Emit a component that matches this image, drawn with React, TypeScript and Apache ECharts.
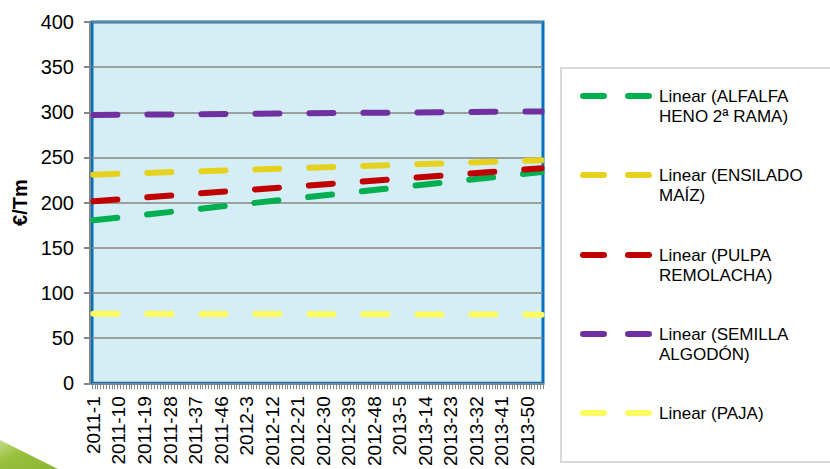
import React, { useEffect, useRef } from "react";
import * as echarts from "echarts";

const years = [2011, 2012, 2013, 2014];
const weeksPerYear = [52, 52, 52, 3];
const categories: string[] = [];
years.forEach((y, i) => {
  for (let w = 1; w <= weeksPerYear[i]; w++) categories.push(`${y}-${w}`);
});

const seriesNames = [
  "Linear (ALFALFA\nHENO 2ª RAMA)",
  "Linear (ENSILADO\nMAÍZ)",
  "Linear (PULPA\nREMOLACHA)",
  "Linear (SEMILLA\nALGODÓN)",
  "Linear (PAJA)",
];
const seriesColors = ["#00b050", "#e6d21e", "#c00000", "#7030a0", "#fcfc62"];
// trend line values at first and last category
const startValues = [180.5, 231, 201.5, 297, 77];
const endValues = [234, 247, 238, 301, 76];
const yTicks = { min: 0, max: 400, interval: 50 };

const FONT = "'Liberation Sans', Arial, sans-serif";

export default function App() {
  const ref = useRef<HTMLDivElement>(null);
  useEffect(() => {
    if (!ref.current) return;
    document.body.style.margin = "0";
    const chart = echarts.init(ref.current, null, { renderer: "svg" });
    const first = categories[0];
    const last = categories[categories.length - 1];
    const legendY = [96, 175, 255, 334, 413];
    const legendGraphics: any[] = [
      {
        type: "rect",
        shape: { x: 561, y: 68, width: 290, height: 394 },
        style: { fill: "#ffffff", stroke: "#d9d9d9", lineWidth: 2 },
      },
    ];
    seriesNames.forEach((n, i) => {
      const y = legendY[i];
      [
        [583, 604],
        [628, 649],
      ].forEach(([x1, x2]) => {
        legendGraphics.push({
          type: "line",
          shape: { x1, y1: y, x2, y2: y },
          style: { stroke: seriesColors[i], lineWidth: 6, lineCap: "round" },
        });
      });
      legendGraphics.push({
        type: "text",
        x: 659,
        y: y - 10,
        style: {
          text: n,
          fontFamily: FONT,
          fontSize: 17,
          lineHeight: 20,
          fill: "#000",
          verticalAlign: "top",
          align: "left",
        },
      });
    });
    legendGraphics.push({
      type: "polygon",
      shape: { points: [[0, 440], [58, 469], [0, 469]] },
      style: {
        fill: new echarts.graphic.LinearGradient(0, 0, 1, 1, [
          { offset: 0, color: "#c3dc8a" },
          { offset: 0.4, color: "#97c03c" },
          { offset: 1, color: "#8ab534" },
        ]),
      },
    });

    chart.setOption({
      animation: false,
      textStyle: { fontFamily: FONT },
      grid: {
        left: 92,
        right: 287,
        top: 22,
        bottom: 84,
        show: true,
        backgroundColor: "#d5eef5",
        borderColor: "#0070c0",
        borderWidth: 3,
      },
      xAxis: {
        type: "category",
        data: categories,
        boundaryGap: true,
        axisLine: { lineStyle: { color: "#868686", width: 1 } },
        axisTick: {
          show: true,
          interval: 0,
          length: 6,
          lineStyle: { color: "#868686", width: 1 },
        },
        axisLabel: {
          interval: 8,
          rotate: 90,
          fontSize: 19,
          color: "#000",
          margin: 13,
          fontFamily: FONT,
        },
        splitLine: { show: false },
      },
      yAxis: {
        type: "value",
        min: yTicks.min,
        max: yTicks.max,
        interval: yTicks.interval,
        offset: 2,
        name: "€/Tm",
        nameLocation: "middle",
        nameGap: 52,
        nameTextStyle: { fontSize: 20, fontWeight: "bold", color: "#000", fontFamily: FONT },
        axisLine: { show: true, lineStyle: { color: "#868686", width: 2 } },
        axisTick: { show: true, length: 6, lineStyle: { color: "#868686", width: 2 } },
        axisLabel: { fontSize: 20, color: "#000", margin: 16, fontFamily: FONT },
        splitLine: { show: true, lineStyle: { color: "#868686", width: 1.5 } },
      },
      graphic: legendGraphics,
      series: seriesNames.map((n, i) => ({
        name: n,
        type: "line",
        symbol: "none",
        silent: true,
        data: [
          [first, startValues[i]],
          [last, endValues[i]],
        ],
        lineStyle: {
          color: seriesColors[i],
          width: 6,
          type: [24, 30],
          cap: "round",
        },
      })),
    });
    return () => chart.dispose();
  }, []);
  return <div ref={ref} style={{ width: 830, height: 469 }} />;
}
